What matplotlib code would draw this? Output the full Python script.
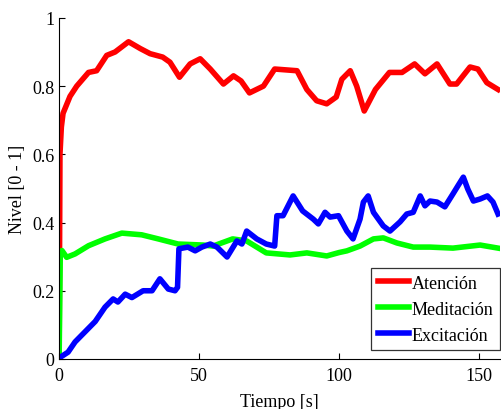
"""
Nivel de atencion / meditacion / excitacion vs tiempo
"""
import matplotlib
matplotlib.use('Agg')
import matplotlib.pyplot as plt

plt.rcParams['font.family'] = ['Liberation Serif', 'DejaVu Serif']

# Atencion (red)
t_aten = [0, 0.3, 0.8, 1.4, 3.9, 6.3, 10.5, 13.4, 17, 20, 24.8, 29, 32.5, 37, 39.6,
          43, 46.8, 50.4, 54, 58.7, 62.3, 65, 68, 73, 77, 85, 88.5, 92, 95.6, 99,
          101, 104, 106.3, 109, 113, 118, 122.5, 127, 130.7, 135, 139.6, 142,
          146.8, 149.6, 152.8, 156.8]
v_aten = [0, 0.6, 0.68, 0.72, 0.77, 0.80, 0.84, 0.845, 0.89, 0.90, 0.93, 0.91, 0.895,
          0.885, 0.87, 0.826, 0.865, 0.88, 0.85, 0.806, 0.83, 0.815, 0.78, 0.80, 0.85,
          0.845, 0.79, 0.757, 0.748, 0.768, 0.82, 0.845, 0.80, 0.727, 0.79, 0.84,
          0.84, 0.865, 0.836, 0.865, 0.806, 0.806, 0.856, 0.85, 0.81, 0.79]

# Meditacion (green)
t_medi = [0, 0.4, 1.0, 2.7, 5.7, 10.5, 16.4, 22.4, 29.5, 35.4, 42.5, 51.4, 55, 62, 67,
          70.6, 74, 82.5, 88.5, 95.6, 100, 102.8, 107.5, 112.3, 115.8, 120.7, 126.5,
          132.5, 140.7, 150.4, 156.8]
v_medi = [0, 0.30, 0.318, 0.298, 0.308, 0.332, 0.352, 0.369, 0.364, 0.352, 0.337,
          0.334, 0.331, 0.352, 0.346, 0.328, 0.311, 0.305, 0.311, 0.302, 0.312,
          0.317, 0.331, 0.352, 0.355, 0.34, 0.328, 0.328, 0.325, 0.334, 0.325]

# Excitacion (blue)
t_exci = [0, 0.4, 3.2, 5.7, 9.3, 12.9, 16.4, 19.3, 21, 23.6, 26, 30, 33.2, 36, 39,
          41.4, 42.3, 42.8, 46, 48.6, 51, 54, 56.4, 60, 63.5, 65.3, 67, 70.6, 74, 77,
          77.8, 80, 83.6, 87, 90.8, 92.6, 95, 96.8, 99.8, 102.8, 105, 107.5, 108.7,
          110.4, 112.3, 115.8, 118.2, 121.8, 124.2, 126.5, 129, 130.7, 132.5, 135,
          137.8, 140.7, 142.5, 144.4, 146, 148, 150.4, 153, 155, 156.8]
v_exci = [0, 0.005, 0.02, 0.05, 0.08, 0.11, 0.152, 0.176, 0.167, 0.19, 0.18, 0.2,
          0.2, 0.235, 0.205, 0.2, 0.21, 0.323, 0.328, 0.317, 0.328, 0.337, 0.328,
          0.299, 0.346, 0.337, 0.375, 0.352, 0.337, 0.331, 0.42, 0.42, 0.478, 0.434,
          0.41, 0.396, 0.43, 0.416, 0.42, 0.375, 0.352, 0.41, 0.46, 0.478, 0.43,
          0.39, 0.375, 0.402, 0.425, 0.43, 0.478, 0.449, 0.463, 0.46, 0.446, 0.484,
          0.508, 0.533, 0.498, 0.463, 0.469, 0.478, 0.46, 0.425]

fig = plt.figure(figsize=(5.01, 4.10), dpi=100)
ax = fig.add_axes([0.118, 0.122, 0.880, 0.832])

ax.plot(t_aten, v_aten, color='#ff0000', lw=4, label='Atención')
ax.plot(t_medi, v_medi, color='#00ff00', lw=4, label='Meditación')
ax.plot(t_exci, v_exci, color='#0000ff', lw=4, label='Excitación')

ax.set_xlim(0, 157.5)
ax.set_ylim(0, 1)
ax.set_xticks([0, 50, 100, 150])
ax.set_yticks([0, 0.2, 0.4, 0.6, 0.8, 1])
ax.set_yticklabels(['0', '0.2', '0.4', '0.6', '0.8', '1'])
ax.tick_params(direction='in', length=4, labelsize=13)
ax.tick_params(axis='x', pad=6)
ax.spines['top'].set_visible(False)
ax.spines['right'].set_visible(False)
ax.set_xlabel('Tiempo [s]', fontsize=13, labelpad=6)
ax.set_ylabel('Nivel [0 - 1]', fontsize=13, labelpad=4)

leg = ax.legend(loc='lower right', bbox_to_anchor=(1.0, 0.026), fontsize=13,
                fancybox=False, framealpha=1, edgecolor='#333333',
                handlelength=1.75, handletextpad=0.15, borderaxespad=0,
                borderpad=0.35, labelspacing=0.5)
leg.get_frame().set_linewidth(0.9)

fig.savefig('out.png', dpi=100)
